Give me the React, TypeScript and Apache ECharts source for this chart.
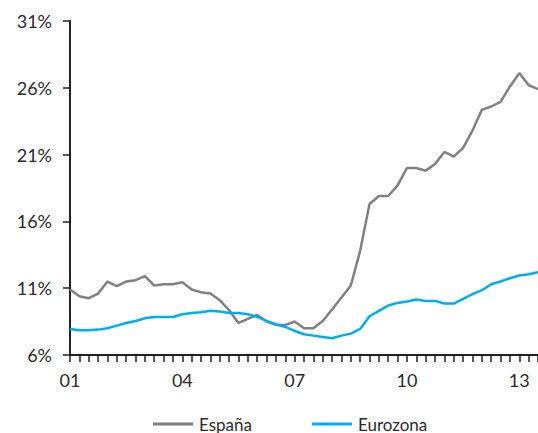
import React, { useEffect, useRef } from "react";
import * as echarts from "echarts";

// Quarterly series, 2001 Q1 – 2013 Q3 (unemployment rate, %)
const years = ["01", "02", "03", "04", "05", "06", "07", "08", "09", "10", "11", "12", "13"];
const quartersInLastYear = 3;

const espana = [
  10.9, 10.4, 10.25, 10.6, 11.5, 11.15, 11.5, 11.6, 11.9, 11.2, 11.3, 11.3,
  11.45, 10.9, 10.7, 10.6, 10.1, 9.35, 8.4, 8.7, 9.0, 8.5, 8.25, 8.25,
  8.5, 8.0, 8.0, 8.55, 9.4, 10.3, 11.2, 13.8, 17.3, 17.9, 17.9, 18.7,
  20.0, 20.0, 19.8, 20.3, 21.2, 20.85, 21.5, 22.8, 24.35, 24.6, 24.95, 26.1,
  27.1, 26.2, 25.9,
];

const eurozona = [
  7.95, 7.85, 7.85, 7.9, 8.0, 8.2, 8.4, 8.55, 8.75, 8.85, 8.85, 8.85,
  9.05, 9.15, 9.2, 9.32, 9.25, 9.15, 9.15, 9.05, 8.85, 8.55, 8.3, 8.1,
  7.8, 7.55, 7.45, 7.35, 7.25, 7.45, 7.6, 7.95, 8.9, 9.3, 9.7, 9.9,
  10.0, 10.15, 10.05, 10.05, 9.85, 9.85, 10.2, 10.55, 10.85, 11.3, 11.5, 11.75,
  11.95, 12.05, 12.2,
];

// one category per quarter, e.g. "01T1"
const categories: string[] = [];
years.forEach((y, yi) => {
  const n = yi === years.length - 1 ? quartersInLastYear : 4;
  for (let q = 1; q <= n; q++) categories.push(`${y}T${q}`);
});

const FONT = "Lato";
const TEXT = "#2b2b2b";

export default function App() {
  const ref = useRef<HTMLDivElement>(null);

  useEffect(() => {
    if (!ref.current) return;
    const chart = echarts.init(ref.current, null, { renderer: "svg" });
    chart.setOption({
      animation: false,
      grid: { left: 70, right: 0, top: 21, bottom: 78, containLabel: false },
      legend: {
        left: 148,
        top: 409,
        padding: [5, 5, 5, 5],
        icon: "rect",
        itemWidth: 40,
        itemHeight: 3,
        itemGap: 60,
        textStyle: { fontFamily: FONT, fontSize: 17, lineHeight: 20, color: TEXT, padding: [0, 0, 0, 1] },
        data: ["España", "Eurozona"],
      },
      xAxis: {
        type: "category",
        data: categories,
        boundaryGap: false,
        axisLine: { lineStyle: { color: "#222", width: 2 } },
        axisTick: { show: true, interval: 0, length: 7, lineStyle: { color: "#222", width: 1.5 } },
        axisLabel: {
          interval: 11,
          margin: 16,
          fontFamily: FONT,
          fontSize: 18,
          color: TEXT,
          formatter: (v: string) => v.slice(0, 2),
        },
        splitLine: { show: false },
      },
      yAxis: {
        type: "value",
        min: 6,
        max: 31,
        interval: 5,
        axisLine: { show: true, lineStyle: { color: "#222", width: 2 } },
        axisTick: { show: true, length: 7, lineStyle: { color: "#222", width: 1.5 } },
        axisLabel: {
          margin: 18,
          fontFamily: FONT,
          fontSize: 18,
          color: TEXT,
          formatter: "{value}%",
        },
        splitLine: { show: false },
      },
      series: [
        {
          name: "España",
          type: "line",
          data: espana,
          symbol: "none",
          lineStyle: { color: "#808080", width: 2.5 },
          itemStyle: { color: "#808080" },
        },
        {
          name: "Eurozona",
          type: "line",
          data: eurozona,
          symbol: "none",
          lineStyle: { color: "#00aeef", width: 2.5 },
          itemStyle: { color: "#00aeef" },
        },
      ],
    });
    return () => chart.dispose();
  }, []);

  return (
    <div
      ref={ref}
      style={{ position: "absolute", left: 0, top: 0, width: 538, height: 433, background: "#fff" }}
    />
  );
}
